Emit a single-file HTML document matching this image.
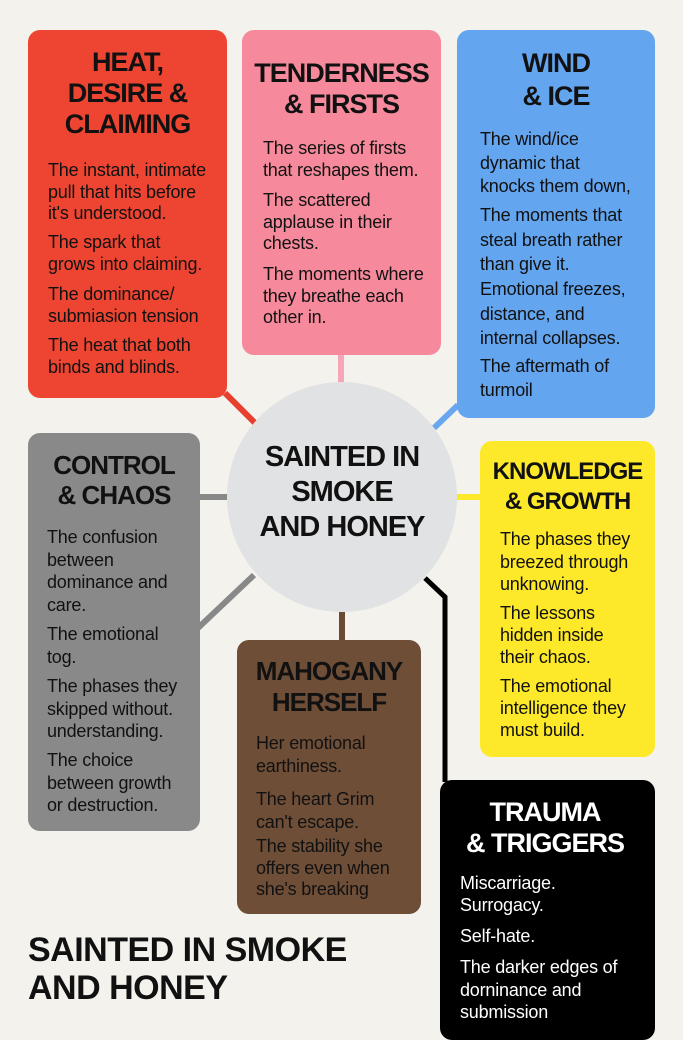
<!DOCTYPE html>
<html><head><meta charset="utf-8"><style>
*{margin:0;padding:0;box-sizing:border-box}
body{width:683px;height:1024px;background:#f4f2ec;position:relative;overflow:hidden;font-family:"Liberation Sans",sans-serif;color:#111}
.box{position:absolute;border-radius:12px}
.h{position:absolute;font-weight:bold;font-size:27px;line-height:31px;text-align:center;letter-spacing:-1px;white-space:nowrap}
.p{position:absolute;font-size:18px;line-height:21.5px;letter-spacing:-0.2px;white-space:nowrap}
</style></head><body>
<svg width="683" height="1024" style="position:absolute;left:0;top:0">
<line x1="225" y1="393" x2="256" y2="424" stroke="#e8402e" stroke-width="6"/>
<line x1="341" y1="350" x2="341" y2="385" stroke="#f6a6b6" stroke-width="6"/>
<line x1="458" y1="405" x2="434" y2="428" stroke="#6aa6ef" stroke-width="6"/>
<line x1="198" y1="497" x2="230" y2="497" stroke="#888" stroke-width="6"/>
<line x1="198" y1="628" x2="254" y2="575" stroke="#888" stroke-width="6"/>
<line x1="455" y1="497" x2="482" y2="497" stroke="#fde92a" stroke-width="6"/>
<line x1="342" y1="608" x2="342" y2="642" stroke="#6b4a33" stroke-width="6"/>
<polyline points="425,578 445,597 445,782" fill="none" stroke="#000" stroke-width="5"/>
<circle cx="342" cy="497" r="115" fill="#e1e2e4"/>
</svg>

<div class="box" style="left:28px;top:30px;width:199px;height:368px;background:#ee4532"></div>
<div class="box" style="left:242px;top:30px;width:199px;height:325px;background:#f68a9c"></div>
<div class="box" style="left:457px;top:30px;width:198px;height:388px;background:#63a5ef"></div>
<div class="box" style="left:28px;top:433px;width:172px;height:398px;background:#898989"></div>
<div class="box" style="left:480px;top:441px;width:175px;height:316px;background:#fde92a"></div>
<div class="box" style="left:237px;top:640px;width:184px;height:274px;background:#6e4e37"></div>
<div class="box" style="left:440px;top:780px;width:215px;height:260px;background:#000"></div>

<div class="h" style="left:28px;width:199px;top:47px">HEAT,<br>DESIRE &amp;<br>CLAIMING</div>
<div class="p" style="left:48px;top:160px">The instant, intimate<br>pull that hits before<br>it's understood.</div>
<div class="p" style="left:48px;top:232px">The spark that<br>grows into claiming.</div>
<div class="p" style="left:48px;top:284px">The dominance/<br>submiasion tension</div>
<div class="p" style="left:48px;top:335px">The heat that both<br>binds and blinds.</div>

<div class="h" style="left:242px;width:199px;top:58px">TENDERNESS<br>&amp; FIRSTS</div>
<div class="p" style="left:263px;top:138px">The series of firsts<br>that reshapes them.</div>
<div class="p" style="left:263px;top:190px">The scattered<br>applause in their<br>chests.</div>
<div class="p" style="left:263px;top:264px">The moments where<br>they breathe each<br>other in.</div>

<div class="h" style="left:457px;width:198px;top:47px;line-height:33px">WIND<br>&amp; ICE</div>
<div class="p" style="left:480px;top:128px;line-height:23.5px">The wind/ice<br>dynamic that<br>knocks them down,</div>
<div class="p" style="left:480px;top:203px;line-height:24.5px">The moments that<br>steal breath rather<br>than give it.</div>
<div class="p" style="left:480px;top:277px;line-height:24.5px">Emotional freezes,<br>distance, and<br>internal collapses.</div>
<div class="p" style="left:480px;top:355px;line-height:23.5px">The aftermath of<br>turmoil</div>

<div class="h" style="left:243px;width:198px;top:440px;font-size:29px;line-height:35px">SAINTED IN<br>SMOKE<br>AND HONEY</div>

<div class="h" style="left:28px;width:172px;top:450px;font-size:26px;line-height:30px">CONTROL<br>&amp; CHAOS</div>
<div class="p" style="left:47px;top:526px;line-height:22.5px">The confusion<br>between<br>dominance and<br>care.</div>
<div class="p" style="left:47px;top:623px;line-height:22.5px">The emotional<br>tog.</div>
<div class="p" style="left:47px;top:675px;line-height:22.5px">The phases they<br>skipped without.<br>understanding.</div>
<div class="p" style="left:47px;top:749px;line-height:22.5px">The choice<br>between growth<br>or destruction.</div>

<div class="h" style="left:480px;width:175px;top:457px;font-size:24px;line-height:30px">KNOWLEDGE<br>&amp; GROWTH</div>
<div class="p" style="left:500px;top:528px;line-height:22.5px">The phases they<br>breezed through<br>unknowing.</div>
<div class="p" style="left:500px;top:602px;line-height:22px">The lessons<br>hidden inside<br>their chaos.</div>
<div class="p" style="left:500px;top:675px;line-height:22px">The emotional<br>intelligence they<br>must build.</div>

<div class="h" style="left:237px;width:184px;top:656px;font-size:26px;line-height:31px">MAHOGANY<br>HERSELF</div>
<div class="p" style="left:256px;top:732px;line-height:23px">Her emotional<br>earthiness.</div>
<div class="p" style="left:256px;top:788px;line-height:23px">The heart Grim<br>can't escape.</div>
<div class="p" style="left:256px;top:836px;line-height:21.5px">The stability she<br>offers even when<br>she's breaking</div>

<div class="h" style="left:440px;width:210px;top:797px;color:#fff;font-size:27px;line-height:31px">TRAUMA<br>&amp; TRIGGERS</div>
<div class="p" style="left:460px;top:872px;color:#fff;line-height:22px">Miscarriage.<br>Surrogacy.</div>
<div class="p" style="left:460px;top:926px;color:#fff">Self-hate.</div>
<div class="p" style="left:460px;top:956px;color:#fff;line-height:22.5px">The darker edges of<br>dorninance and<br>submission</div>

<div class="h" style="left:28px;top:931px;text-align:left;font-size:34px;line-height:38px;letter-spacing:-0.5px">SAINTED IN SMOKE<br>AND HONEY</div>
</body></html>
